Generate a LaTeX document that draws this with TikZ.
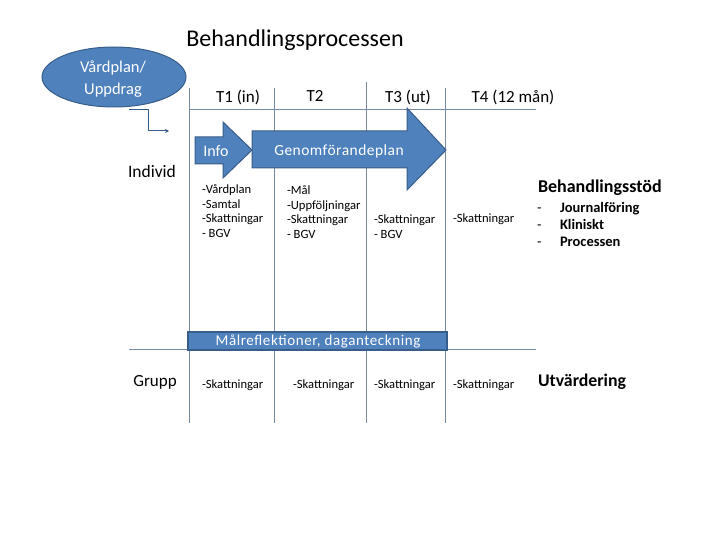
\documentclass[tikz,border=0pt]{standalone}
\usepackage{fontspec}
\setmainfont{Carlito}
\usetikzlibrary{arrows.meta,shapes.geometric}
\definecolor{boxblue}{RGB}{79,129,189}
\definecolor{edgeblue}{RGB}{56,93,138}
\definecolor{gridc}{RGB}{120,138,160}
\tikzset{
  gridline/.style={draw=gridc,line width=0.8pt},
  txt/.style={inner sep=0pt,outer sep=0pt},
  small/.style={txt,font=\fontsize{12.6}{15}\selectfont,anchor=base west},
  item/.style={txt,font=\fontsize{14.5}{17}\selectfont,anchor=base west},
  tlab/.style={txt,font=\fontsize{17}{20}\selectfont},
  bigshape/.style={fill=boxblue,draw=edgeblue,line width=1pt},
  wtxt/.style={txt,text=white},
}
\begin{document}
\begin{tikzpicture}[x=1pt,y=-1pt]
\useasboundingbox (0,0) rectangle (720,540);
% grid
\draw[gridline] (189,88) -- (189,423);
\draw[gridline] (274,88) -- (274,423);
\draw[gridline] (366,82) -- (366,423);
\draw[gridline] (445,88) -- (445,423);
\draw[gridline] (189,109) -- (536,109);
\draw[gridline] (129,349) -- (536,349);
% title
\node[txt,font=\fontsize{24}{28}\selectfont] (title) at (295,40) {Behandlingsprocessen};
% ellipse
\node[ellipse,bigshape,minimum width=144pt,minimum height=60pt,inner sep=0pt] (vp) at (114,77) {};
\node[wtxt,font=\fontsize{16.5}{22}\selectfont,align=center] (vptxt) at (113,79) {Vårdplan/\\Uppdrag};
% connector
\coordinate (c0) at (129,110);
\coordinate (c1) at (169,131);
\draw[draw=edgeblue,line width=1pt,-{Stealth[length=4pt,width=4pt]}] (c0) -| (148,131) -- (c1);
% T labels
\node[tlab] (t1) at (238,97) {T1 (in)};
\node[tlab] (t2) at (315,96) {T2};
\node[tlab] (t3) at (408,97) {T3 (ut)};
\node[tlab] (t4) at (513,97) {T4 (12 mån)};
% row labels
\node[txt,font=\fontsize{17.5}{20}\selectfont] (indiv) at (152,171) {Individ};
\node[txt,font=\fontsize{17}{20}\selectfont] (grupp) at (155,382) {Grupp};
% arrows
\fill[bigshape] (195,137) -- (223,137) -- (223,122) -- (252,150) -- (223,178) -- (223,164) -- (195,164) -- cycle;
\fill[bigshape] (252,131) -- (407,131) -- (407,108) -- (446,150) -- (407,190) -- (407,168) -- (252,168) -- cycle;
\node[wtxt,font=\fontsize{16}{19}\selectfont] (info) at (216,151) {Info};
\node[wtxt,font=\fontsize{15.5}{19}\selectfont\addfontfeature{LetterSpace=3}] (genom) at (339,151) {Genomförandeplan};
% lists (baselines)
\node[small] (l1a) at (202,193.5) {-Vårdplan};
\node[small] (l1b) at (202,208) {-Samtal};
\node[small] (l1c) at (202,222.5) {-Skattningar};
\node[small] (l1d) at (202,237) {- BGV};
\node[small] (l2a) at (287,195) {-Mål};
\node[small] (l2b) at (287,209.5) {-Uppföljningar};
\node[small] (l2c) at (287,224) {-Skattningar};
\node[small] (l2d) at (287,238.5) {- BGV};
\node[small] (l3a) at (374,223.5) {-Skattningar};
\node[small] (l3b) at (374,238) {- BGV};
\node[small] (l4a) at (453,222.5) {-Skattningar};
% Behandlingsstöd
\node[txt,anchor=west,font=\fontsize{18}{21}\selectfont\bfseries] (bst) at (538,188) {Behandlingsstöd};
\node[item] (d1) at (537,213) {-};
\node[item] (d2) at (537,229.5) {-};
\node[item] (d3) at (537,246) {-};
\node[item,font=\fontsize{14.5}{17}\selectfont\bfseries] (b1) at (560,213) {Journalföring};
\node[item,font=\fontsize{14.5}{17}\selectfont\bfseries] (b2) at (560,229.5) {Kliniskt};
\node[item,font=\fontsize{14.5}{17}\selectfont\bfseries] (b3) at (560,246) {Processen};
% bar
\node[bigshape,rectangle,minimum width=259pt,minimum height=18pt,inner sep=0pt,line width=1.5pt] (bar) at (317.5,341) {};
\node[wtxt,font=\fontsize{15}{18}\selectfont\addfontfeature{LetterSpace=4}] (bartxt) at (318,341) {Målreflektioner, daganteckning};
% grupp row
\node[small] (g1) at (202,388.5) {-Skattningar};
\node[small] (g2) at (293,388.5) {-Skattningar};
\node[small] (g3) at (374,388.5) {-Skattningar};
\node[small] (g4) at (453,388.5) {-Skattningar};
\node[txt,anchor=west,font=\fontsize{17.8}{21}\selectfont\bfseries] (utv) at (538,382) {Utvärdering};
\end{tikzpicture}
\end{document}
